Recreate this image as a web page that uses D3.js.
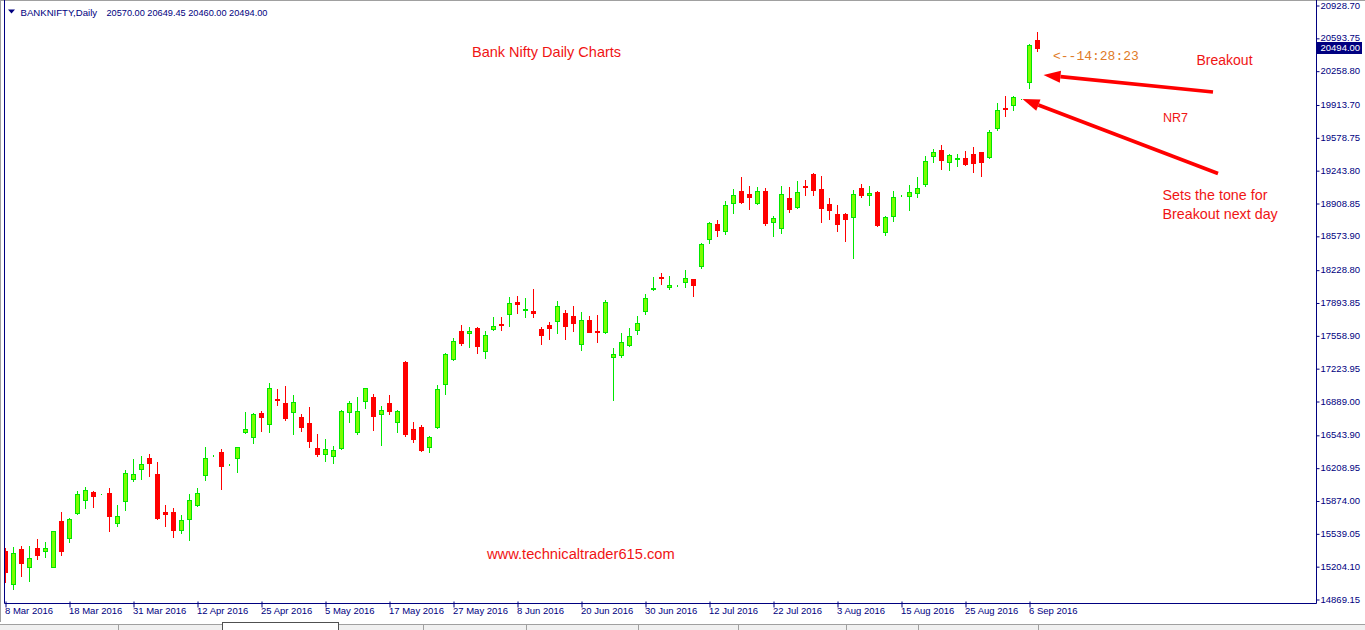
<!DOCTYPE html>
<html><head><meta charset="utf-8">
<script src="https://cdn.jsdelivr.net/npm/d3@7"></script>
<style>html,body{margin:0;padding:0;background:#fff;overflow:hidden}</style>
</head><body>
<svg id="c" width="1365" height="630" xmlns="http://www.w3.org/2000/svg"></svg>
<script>
// ---- data (BANKNIFTY daily, 8 Mar 2016 .. 7 Sep 2016) ----
const openP  = [15360,15023,15380,15200,15390,15357,15200,15666,15496,15744,15883,15959,15941,15951,15642,15873,16097,16199,16308,16145,
                15758,15758,15571,15683,15826,16132,16334,16370,16242,16312,16571,16520,16767,16652,16913,16869,16775,16727,16665,16410,
                16352,16326,16407,16775,16571,16887,16931,16754,16869,16673,17288,16604,16625,16424,16628,17066,17315,17604,17587,17634,
                17397,17621,17678,17774,17900,17821,17808,17624,17665,17703,17787,17757,17468,17713,17604,17591,17336,17356,17458,17611,
                17805,18029,18155,18050,18068,18101,18131,18270,18539,18695,18627,18906,19029,19001,18906,19032,18719,18658,18957,18872,
                19083,19205,19052,18899,18797,18797,18770,19062,18994,19022,18611,18774,18986,18978,19008,19100,19386,19447,19325,19355,
                19365,19406,19427,19376,19671,19878,19906,19970,20140,20570.00];
const highP  = [15390,15401,15411,15411,15482,15452,15564,15758,15696,15972,16013,15972,15944,16006,15829,16186,16298,16329,16349,16268,
                15829,15798,15727,15941,16006,16421,16338,16400,16247,16420,16778,16767,16788,17073,17012,17043,16951,16757,16829,16553,
                16502,16431,16798,16890,16931,17025,16961,16839,16951,16801,17292,16676,16645,16536,17053,17379,17532,17665,17645,17645,
                17604,17747,17747,17951,17961,17940,18032,17645,17696,17907,17818,17859,17798,17757,17767,17917,17430,17583,17634,17757,
                17981,18155,18195,18165,18073,18226,18135,18501,18716,18736,18927,19052,19175,19083,19073,19062,18774,19083,19073,19134,
                19144,19210,19185,18960,18889,18807,19042,19103,19083,19032,18774,19032,18991,19090,19172,19386,19457,19498,19406,19406,
                19437,19478,19432,19651,19926,19998,19998,19972,20531,20649.45];
const lowP   = [15047,14975,15108,15057,15281,15302,15195,15322,15455,15740,15802,15812,15938,15567,15618,15781,16077,16091,16125,15686,
                15618,15506,15547,15475,15822,16087,16332,15995,16240,16169,16565,16465,16584,16577,16852,16699,16556,16587,16424,16332,
                16281,16261,16403,16679,16550,16822,16597,16444,16760,16577,16536,16475,16383,16373,16618,16964,17310,17464,17444,17383,
                17332,17611,17617,17658,17791,17750,17750,17474,17525,17587,17525,17607,17413,17592,17495,17586,16903,17342,17453,17576,
                17780,18025,18086,18035,18066,18050,17964,18250,18505,18576,18596,18811,18913,18851,18902,18688,18576,18607,18821,18862,
                18991,18994,18719,18746,18627,18525,18352,18974,18892,18678,18586,18729,18984,18838,18968,19080,19325,19253,19243,19284,
                19294,19223,19182,19372,19651,19794,19855,19968,20079,20460.00];
const closeP = [15149,15339,15240,15288,15322,15387,15564,15363,15683,15938,15979,15924,15941,15720,15714,16152,16145,16247,16261,15700,
                15740,15577,15673,15877,15948,16305,16336,16230,16245,16418,16601,16757,16730,17019,16900,16720,16877,16628,16485,16352,
                16397,16387,16788,16866,16788,17019,16740,16798,16791,16788,16556,16505,16393,16523,17009,17369,17502,17485,17604,17454,
                17563,17652,17668,17886,17882,17828,17791,17566,17638,17856,17658,17689,17713,17597,17594,17897,17366,17489,17550,17682,
                17937,18042,18148,18070,18071,18141,18070,18488,18702,18637,18886,18988,18923,18974,19029,18709,18753,19001,18848,19019,
                19076,19045,18862,18841,18698,18749,19001,18994,19011,18688,18764,18968,18989,19019,19059,19335,19427,19345,19396,19368,
                19304,19314,19325,19631,19855,19868,19994,19970,20521,20494.00];
const dateLabels = ["8 Mar 2016","18 Mar 2016","31 Mar 2016","12 Apr 2016","25 Apr 2016","5 May 2016","17 May 2016",
                    "27 May 2016","8 Jun 2016","20 Jun 2016","30 Jun 2016","12 Jul 2016","22 Jul 2016","3 Aug 2016",
                    "15 Aug 2016","25 Aug 2016","6 Sep 2016"];
const priceTicks = [20928.70,20593.75,20258.80,19913.70,19578.75,19243.80,18908.85,18573.90,18228.80,17893.85,
                    17558.90,17223.95,16889.00,16543.90,16208.95,15874.00,15539.05,15204.10,14869.15];
const symbolName = "BANKNIFTY,Daily";
const timerText = "<--14:28:23";

// ---- layout ----
const W = 1365, H = 630;
const plotL = 4.5, plotR = 1316.5, plotT = 0.5, plotB = 603.5;
const n = openP.length;
const svg = d3.select("#c");
const fontAxis = "'Liberation Sans', Arial, sans-serif";
const navy = "#000080";

const x = d3.scaleLinear().domain([0, n - 1]).range([5.5, 5.5 + 8 * (n - 1)]);
const y = d3.scaleLinear().domain([14869.15, 20928.70]).range([599, 5]);

svg.append("rect").attr("width", W).attr("height", H).attr("fill", "#fff");

// clip
svg.append("defs").append("clipPath").attr("id", "plotclip")
  .append("rect").attr("x", plotL + 0.5).attr("y", plotT + 0.5).attr("width", plotR - plotL - 1).attr("height", plotB - plotT - 1);

const bars = d3.range(n).map(i => ({i, o: openP[i], h: highP[i], l: lowP[i], c: closeP[i], up: closeP[i] >= openP[i]}));
const g = svg.append("g").attr("clip-path", "url(#plotclip)");

const bullFill = "#7cfc00", bullLine = "#00e600", bear = "#ff0000";
const snap = v => Math.round(v) + 0.5;

// wicks
g.selectAll("line.wick").data(bars).join("line")
  .attr("class", "wick")
  .attr("x1", d => x(d.i)).attr("x2", d => x(d.i))
  .attr("y1", d => Math.round(y(d.h))).attr("y2", d => Math.round(y(d.l)) + 1)
  .attr("stroke", d => d.up ? bullLine : bear).attr("stroke-width", 1);

// bear bodies
g.selectAll("rect.bear").data(bars.filter(d => !d.up)).join("rect")
  .attr("class", "bear")
  .attr("x", d => x(d.i) - 2.5)
  .attr("y", d => Math.round(y(d.o)))
  .attr("width", 5)
  .attr("height", d => Math.max(1, Math.round(y(d.c)) - Math.round(y(d.o)) + 1))
  .attr("fill", bear);

// bull bodies
g.selectAll("rect.bull").data(bars.filter(d => d.up)).join("rect")
  .attr("class", "bull")
  .attr("x", d => x(d.i) - 2)
  .attr("y", d => snap(y(d.c)))
  .attr("width", 4)
  .attr("height", d => Math.max(0, Math.round(y(d.o)) - Math.round(y(d.c))))
  .attr("fill", bullFill).attr("stroke", bullLine).attr("stroke-width", 1);

// frame
svg.append("line").attr("x1", 0.5).attr("x2", 0.5).attr("y1", 0).attr("y2", 622).attr("stroke", "#a0a0a0");
svg.append("line").attr("x1", 0).attr("x2", W).attr("y1", 0.5).attr("y2", 0.5).attr("stroke", "#a0a0a0");
svg.append("line").attr("x1", plotL).attr("x2", plotL).attr("y1", 0).attr("y2", plotB).attr("stroke", navy);
svg.append("line").attr("x1", plotL).attr("x2", plotR).attr("y1", plotB).attr("y2", plotB).attr("stroke", navy);
svg.append("line").attr("x1", plotR).attr("x2", plotR).attr("y1", 0).attr("y2", plotB).attr("stroke", navy);

// right price axis
const yAxis = d3.axisRight(y).tickValues(priceTicks).tickSize(3).tickPadding(1)
  .tickFormat(d => d3.format(".2f")(d));
const ya = svg.append("g").attr("transform", `translate(${plotR},0)`).call(yAxis);
ya.select(".domain").remove();
ya.selectAll(".tick line").attr("stroke", navy).attr("transform", "translate(0,0.5)");
ya.selectAll(".tick text").attr("fill", navy).attr("font-family", fontAxis).attr("font-size", "9.5px").attr("x", 4);

// current price box
const lastC = closeP[n - 1];
svg.append("rect").attr("x", plotR + 0.5).attr("y", Math.round(y(lastC)) - 6).attr("width", 45).attr("height", 12).attr("fill", navy);
svg.append("text").attr("x", plotR + 4).attr("y", y(lastC)).attr("dy", "0.34em")
  .attr("fill", "#fff").attr("font-family", fontAxis).attr("font-size", "9.5px").text(d3.format(".2f")(lastC));

// bottom date axis
const xTicks = dateLabels.map((d, k) => k * 8);
const xAxis = d3.axisBottom(x).tickValues(xTicks).tickSize(4).tickFormat((d, k) => dateLabels[k]);
const xa = svg.append("g").attr("transform", `translate(0,${plotB})`).call(xAxis);
xa.select(".domain").remove();
xa.selectAll(".tick line").attr("stroke", navy).attr("y1", -2);
xa.selectAll(".tick text").attr("fill", navy).attr("font-family", fontAxis).attr("font-size", "9.5px")
  .attr("text-anchor", "start").attr("x", -1).attr("y", 4).attr("dy", "0.71em");

// header
svg.append("path").attr("d", "M8,9.5 L15,9.5 L11.5,13.5 Z").attr("fill", navy);
svg.append("text").attr("x", 20.5).attr("y", 15.5).attr("fill", navy).attr("font-family", fontAxis).attr("font-size", "9.6px").text(symbolName);
svg.append("text").attr("x", 106.5).attr("y", 15.5).attr("fill", navy).attr("font-family", fontAxis).attr("font-size", "9.2px")
  .text([openP[n-1], highP[n-1], lowP[n-1], closeP[n-1]].map(d3.format(".2f")).join(" "));

// bottom tab strip
svg.append("rect").attr("x", 0).attr("y", 624).attr("width", W).attr("height", 6).attr("fill", "#f0f0f0");
svg.append("line").attr("x1", 0).attr("x2", W).attr("y1", 624.5).attr("y2", 624.5).attr("stroke", "#a0a0a0");
svg.append("rect").attr("x", 222.5).attr("y", 622.5).attr("width", 116).attr("height", 8).attr("fill", "#fff").attr("stroke", "#505050");
[118, 423, 526, 638, 738, 846, 918, 1038].forEach(t => {
  svg.append("line").attr("x1", t + 0.5).attr("x2", t + 0.5).attr("y1", 625).attr("y2", 630).attr("stroke", "#a0a0a0");
});

// annotations
const red = "#f01414", annFont = "'Liberation Sans', Arial, sans-serif";
function ann(txt, xx, yy, size) {
  svg.append("text").attr("x", xx).attr("y", yy).attr("fill", red).attr("font-family", annFont).attr("font-size", size + "px").text(txt);
}
ann("Bank Nifty Daily Charts", 472, 57, 14.5);
ann("www.technicaltrader615.com", 487, 559, 14.7);
ann("Breakout", 1196.5, 64.5, 14);
ann("NR7", 1163, 121.5, 12.5);
ann("Sets the tone for", 1162.5, 200, 14.3);
ann("Breakout next day", 1162.5, 219, 14.3);
svg.append("text").attr("x", 1053).attr("y", 60).attr("fill", "#e07b28")
  .attr("font-family", "'Liberation Mono', 'Courier New', monospace").attr("font-size", "13px").text(timerText);

function arrow(x1, y1, x2, y2) {
  const dx = x2 - x1, dy = y2 - y1, L = Math.hypot(dx, dy), ux = dx / L, uy = dy / L;
  const hl = 17, hw = 6;
  const bx = x2 - ux * hl, by = y2 - uy * hl;
  svg.append("line").attr("x1", x1).attr("y1", y1).attr("x2", bx).attr("y2", by)
    .attr("stroke", "#ff0000").attr("stroke-width", 3.6);
  svg.append("path").attr("d", `M${x2},${y2} L${bx - uy * hw},${by + ux * hw} L${bx + uy * hw},${by - ux * hw} Z`).attr("fill", "#ff0000");
}
// Breakout arrow → pointing at the breakout candle (bar 128)
arrow(1213, 92, x(n - 2) + 14, y(20215));
// NR7 arrow → pointing at the NR7 bar
arrow(1218, 173.5, x(n - 3) + 1, y(19970));
</script>
</body></html>
